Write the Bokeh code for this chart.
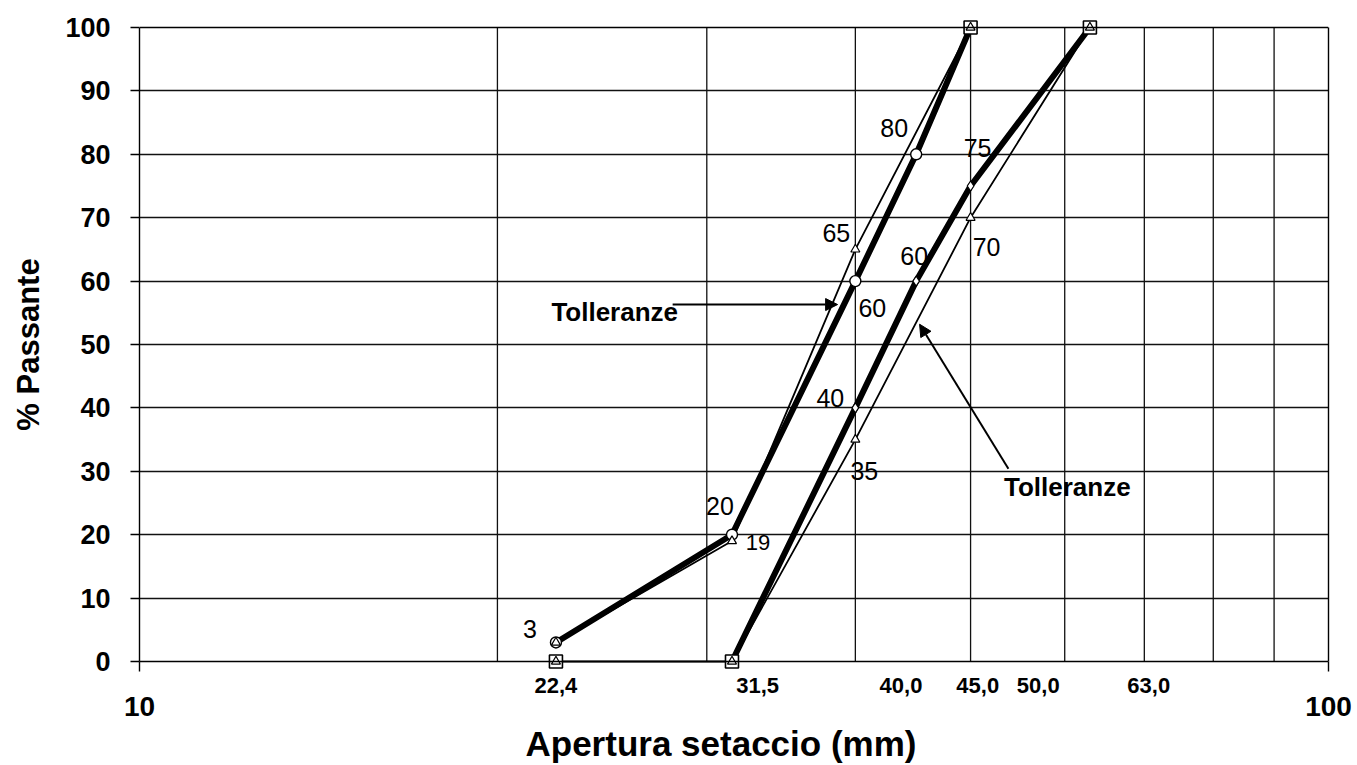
from bokeh.plotting import figure
from bokeh.models import (Range1d, FixedTicker, Label, Arrow, NormalHead, LogAxis,
                          LinearAxis, Title, Span)
from bokeh.embed import file_html
from bokeh.resources import INLINE

# ---------------- data ----------------
upper_x = [22.4, 31.5, 40, 45, 50]
upper_y = [3, 20, 60, 80, 100]
upper_tol_x = [22.4, 31.5, 40, 50]
upper_tol_y = [3, 19, 65, 100]
lower_x = [31.5, 40, 45, 50, 63]
lower_y = [0, 40, 60, 75, 100]
lower_tol_x = [22.4, 31.5, 40, 50, 63]
lower_tol_y = [0, 0, 35, 70, 100]
limit_x = [22.4, 31.5, 50, 63]
limit_y = [0, 0, 100, 100]

sieve_labels = ["22,4", "31,5", "40,0", "45,0", "50,0", "63,0"]
y_ticks = list(range(0, 101, 10))
x_grid = [20, 30, 40, 50, 60, 70, 80, 90]

# value annotations: (text, x, y)
value_labels = [
    ("3", 22.4, 3), ("20", 31.5, 20), ("19", 31.5, 19), ("65", 40, 65),
    ("60", 40, 60), ("80", 45, 80), ("40", 40, 40), ("35", 40, 35),
    ("60", 45, 60), ("75", 50, 75), ("70", 50, 70),
]

# ---------------- layout constants ----------------
value_offsets = [(-26, 13), (-12, 29), (26, -1), (-19, 16), (17, -27), (-22, 26),
                 (-25, 10), (9, -31), (-2, 25), (7, 38), (16, -29)]
# where the sieve labels sit along the axis in the original drawing
sieve_label_pos = [22.4, 33.1, 43.7, 50.7, 57.0, 70.6]
PAD = 10 / 6.34   # small vertical padding (data units) so edge markers are not cut

FONT = "Liberation Sans"
GRID = "#111111"

p = figure(width=1357, height=765, x_axis_type="log",
           x_range=Range1d(10, 100), y_range=Range1d(-PAD, 100 + PAD),
           output_backend="svg", toolbar_location=None, title_location=None,
           min_border_left=139, min_border_right=29, min_border_top=17,
           min_border_bottom=94)

p.background_fill_color = "white"
p.border_fill_color = "white"
p.outline_line_color = None

# grids
p.xgrid.visible = False
p.ygrid.ticker = FixedTicker(ticks=y_ticks[1:-1])
p.ygrid.grid_line_color = GRID
p.ygrid.grid_line_width = 1.3
p.segment(x0=x_grid, y0=0, x1=x_grid, y1=100, line_color=GRID, line_width=1.3)

# x axis (sieve labels + tick marks at 10 and 100)
xa = p.xaxis[0]
xa.ticker = FixedTicker(ticks=sieve_label_pos, minor_ticks=[10, 100])
xa.major_label_overrides = {v: t for v, t in zip(sieve_label_pos, sieve_labels)}
xa.major_label_text_font = FONT
xa.major_label_text_font_style = "bold"
xa.major_label_text_font_size = "22px"
xa.major_label_text_color = "black"
xa.major_label_standoff = 6
xa.major_tick_out = 0
xa.major_tick_in = 0
xa.major_tick_line_color = None
xa.minor_tick_out = 0
xa.minor_tick_in = 10
xa.minor_tick_line_color = "black"
xa.minor_tick_line_width = 1.4
xa.axis_line_color = None

# second x axis carrying the decade labels
xb = LogAxis(ticker=FixedTicker(ticks=[10, 100], minor_ticks=[]),
             major_label_overrides={10: "10", 100: "100"},
             major_label_text_font=FONT, major_label_text_font_style="bold",
             major_label_text_font_size="28px", major_label_text_color="black",
             major_label_standoff=1, major_tick_out=0, major_tick_in=0,
             major_tick_line_color=None, minor_tick_line_color=None,
             axis_line_color=None)
p.add_layout(xb, "below")

p.add_layout(Title(text="Apertura setaccio (mm)", align="left", offset=386,
                   standoff=6, text_font=FONT, text_font_style="bold",
                   text_font_size="35px", text_color="black"), "below")

# y axis
ya = p.yaxis[0]
ya.bounds = (0, 100)
ya.ticker = FixedTicker(ticks=y_ticks)
ya.major_label_text_font = FONT
ya.major_label_text_font_style = "bold"
ya.major_label_text_font_size = "27px"
ya.major_label_text_color = "black"
ya.major_label_standoff = 20
ya.major_tick_out = 9
ya.major_tick_in = 0
ya.minor_tick_line_color = None
ya.axis_line_color = "black"
ya.axis_line_width = 1.4
ya.major_tick_line_color = "black"
ya.major_tick_line_width = 1.4
ya.axis_label = "% Passante"
ya.axis_label_text_font = FONT
ya.axis_label_text_font_style = "bold"
ya.axis_label_text_font_size = "31px"
ya.axis_label_text_color = "black"
ya.axis_label_standoff = 16

# right border line (0..100 only)
p.add_layout(LinearAxis(bounds=(0, 100), ticker=FixedTicker(ticks=[]),
                        major_label_text_font_size="0px",
                        major_tick_line_color=None, minor_tick_line_color=None,
                        axis_line_color="black", axis_line_width=1.4), "right")

# lines
p.line(upper_tol_x, upper_tol_y, line_color="black", line_width=1.8)
p.line(lower_tol_x, lower_tol_y, line_color="black", line_width=1.8)
p.line(upper_x, upper_y, line_color="black", line_width=6)
p.line(lower_x, lower_y, line_color="black", line_width=6)

# bottom and top border lines (drawn over the lines lying on them)
p.add_layout(Span(location=0, dimension="width", line_color="black", line_width=1.5))
p.add_layout(Span(location=100, dimension="width", line_color="black", line_width=1.4))

# markers
p.scatter(upper_x, upper_y, marker="circle", size=11, fill_color="white",
          line_color="black", line_width=1.4)
p.scatter(lower_x, lower_y, marker="diamond", size=10, fill_color="white",
          line_color="black", line_width=1.2)
p.scatter(limit_x, limit_y, marker="square", size=13, fill_color="white",
          line_color="black", line_width=1.6)
p.scatter(upper_tol_x, upper_tol_y, marker="triangle", size=9, fill_color="white",
          line_color="black", line_width=1.2)
p.scatter(lower_tol_x, lower_tol_y, marker="triangle", size=9, fill_color="white",
          line_color="black", line_width=1.2)

# value labels
for (txt, vx, vy), (dx, dy) in zip(value_labels, value_offsets):
    p.add_layout(Label(x=vx, y=vy, x_offset=dx, y_offset=dy, text=txt,
                       text_font=FONT, text_font_size="22px" if txt == "19" else "25px",
                       text_align="center", text_baseline="middle",
                       text_color="black"))

# tolerance annotations
p.add_layout(Label(x=25.1, y=55.2, text="Tolleranze", text_font=FONT,
                   text_font_style="bold", text_font_size="26px",
                   text_align="center", text_baseline="middle", text_color="black"))
p.add_layout(Label(x=60.3, y=27.6, text="Tolleranze", text_font=FONT,
                   text_font_style="bold", text_font_size="26px",
                   text_align="center", text_baseline="middle", text_color="black"))
p.add_layout(Arrow(x_start=28.08, y_start=56.3, x_end=38.65, y_end=56.3,
                   line_color="black", line_width=2,
                   end=NormalHead(size=12, fill_color="black", line_color="black")))
p.add_layout(Arrow(x_start=53.8, y_start=30.4, x_end=45.3, y_end=53.2,
                   line_color="black", line_width=2,
                   end=NormalHead(size=12, fill_color="black", line_color="black")))

open("out.html", "w").write(file_html(p, INLINE))
